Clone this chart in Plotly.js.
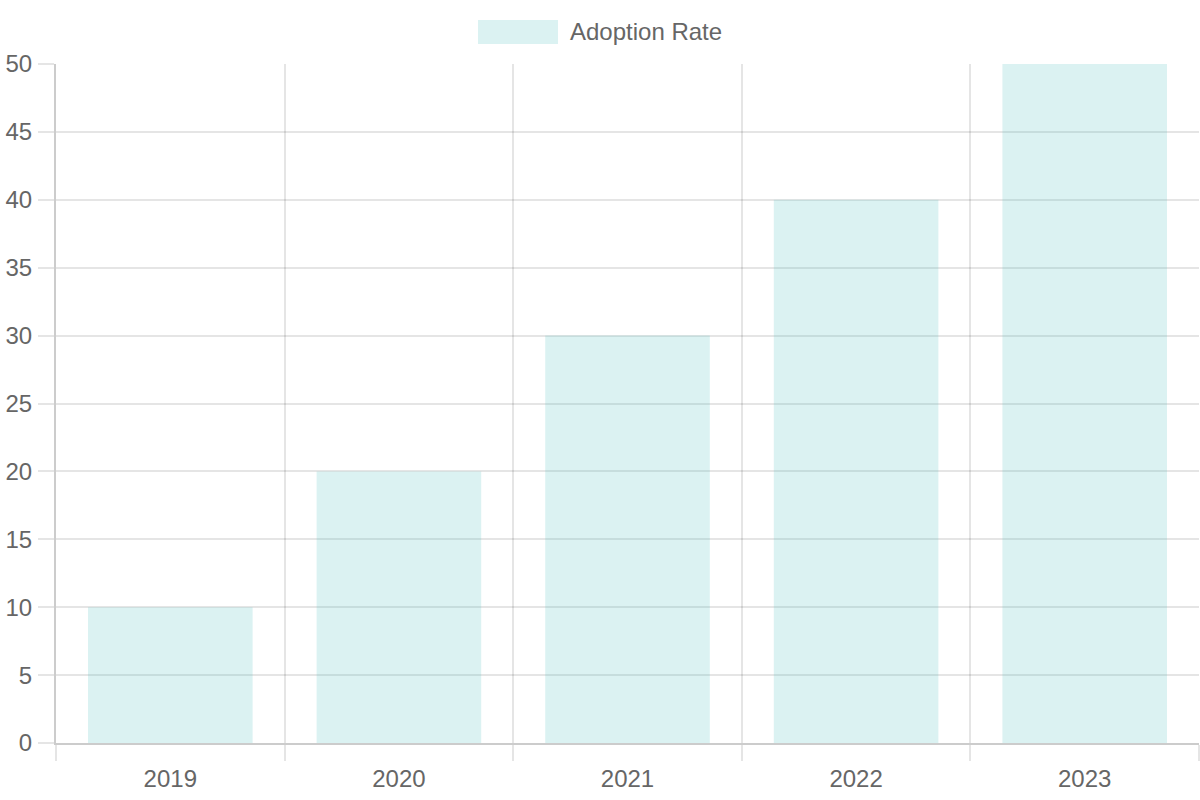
<!DOCTYPE html>
<html>
<head>
<meta charset="utf-8">
<script src="https://cdn.plot.ly/plotly-3.0.1.min.js"></script>
<style>
  html, body { margin: 0; padding: 0; background: #fff; }
  #chart { width: 1200px; height: 800px; }
</style>
</head>
<body>
<div id="chart"></div>
<script>
// data
var years = ['2019', '2020', '2021', '2022', '2023'];
var adoptionRate = [10, 20, 30, 40, 50];
var seriesName = 'Adoption Rate';

var FILL = 'rgba(75,192,192,0.2)';
var GRID = 'rgba(0,0,0,0.1)';
var AXIS = 'rgba(0,0,0,0.2)';
var FONT = {family: '"Liberation Sans", Arial, sans-serif', size: 24, color: '#666'};

// plot box in pixels, used to place the hand-drawn legend
var M = {l: 56, r: 1, t: 64, b: 57};
var W = 1200 - M.l - M.r, H = 800 - M.t - M.b;
function px(x) { return (x - M.l) / W; }
function py(y) { return (800 - M.b - y) / H; }

CHART = document.getElementById('chart');
layout = {
  width: 1200,
  height: 800,
  margin: M,
  paper_bgcolor: '#fff',
  plot_bgcolor: '#fff',
  font: FONT,
  showlegend: false,
  bargap: 0.28,
  xaxis: {
    type: 'category',
    tickson: 'boundaries',
    ticks: 'outside',
    ticklen: 16,
    tickwidth: 2,
    tickcolor: GRID,
    showgrid: true,
    gridcolor: GRID,
    gridwidth: 2,
    showline: true,
    linecolor: AXIS,
    linewidth: 2,
    ticklabelstandoff: 13,
    tickfont: FONT,
    fixedrange: true,
  },
  yaxis: {
    range: [0, 50],
    dtick: 5,
    ticks: 'outside',
    ticklen: 16,
    tickwidth: 2,
    tickcolor: GRID,
    gridcolor: GRID,
    gridwidth: 2,
    zeroline: false,
    showline: true,
    linecolor: AXIS,
    linewidth: 2,
    ticklabelstandoff: 1,
    tickfont: FONT,
    fixedrange: true,
  },
  shapes: [{
    type: 'rect', xref: 'paper', yref: 'paper',
    x0: px(478), x1: px(558), y0: py(44), y1: py(20),
    fillcolor: FILL, line: {width: 0},
  }],
  annotations: [{
    xref: 'paper', yref: 'paper',
    x: px(568), y: py(32),
    xanchor: 'left', yanchor: 'middle',
    showarrow: false,
    text: seriesName,
    font: FONT,
  }],
};

Plotly.newPlot(CHART, [
  {
    x: years,
    y: adoptionRate,
    type: 'bar',
    name: seriesName,
    marker: {color: FILL, line: {width: 0}},
    hoverinfo: 'x+y',
  }], layout, {displayModeBar: false, staticPlot: true});
</script>
</body>
</html>
